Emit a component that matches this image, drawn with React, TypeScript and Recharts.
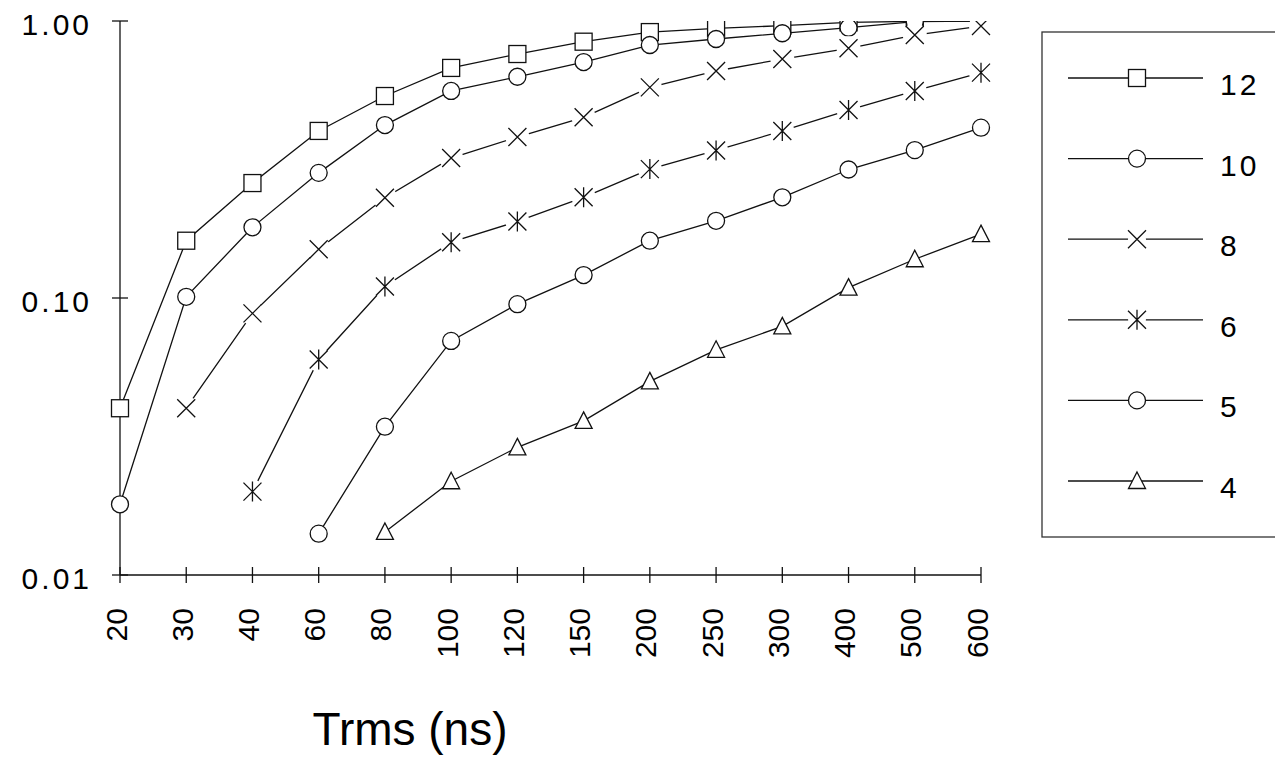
import React from 'react';
import { LineChart, Line, XAxis, YAxis, Legend, Label } from 'recharts';

const FONT = '"Liberation Sans", Arial, sans-serif';

// Trms values (ns) on the x axis
const trms = ['20', '30', '40', '60', '80', '100', '120', '150', '200', '250', '300', '400', '500', '600'];

// one curve per legend entry
const s12 = [0.040, 0.161, 0.260, 0.401, 0.536, 0.677, 0.760, 0.842, 0.912, 0.941, 0.962, 0.989, 0.997, 1.0];
const s10 = [0.018, 0.101, 0.180, 0.283, 0.421, 0.559, 0.629, 0.711, 0.819, 0.861, 0.903, 0.946, 0.994, 1.0];
const s8 = [null, 0.040, 0.088, 0.150, 0.230, 0.320, 0.381, 0.449, 0.576, 0.660, 0.729, 0.797, 0.890, 0.959];
const s6 = [null, null, 0.020, 0.060, 0.110, 0.159, 0.189, 0.231, 0.292, 0.341, 0.401, 0.477, 0.559, 0.651];
const s5 = [null, null, null, 0.0141, 0.0343, 0.070, 0.095, 0.121, 0.161, 0.190, 0.231, 0.291, 0.342, 0.412];
const s4 = [null, null, null, null, 0.0143, 0.0218, 0.0289, 0.036, 0.050, 0.065, 0.079, 0.109, 0.138, 0.170];

const yTicks = [0.01, 0.1, 1];

const SERIES = [
  { key: 's12', name: '12', values: s12, marker: 'square' },
  { key: 's10', name: '10', values: s10, marker: 'circle' },
  { key: 's8', name: '8', values: s8, marker: 'cross' },
  { key: 's6', name: '6', values: s6, marker: 'star' },
  { key: 's5', name: '5', values: s5, marker: 'circle' },
  { key: 's4', name: '4', values: s4, marker: 'triangle' },
];

const chartData = trms.map((t, i) => {
  const row: any = { t };
  SERIES.forEach((s) => { row[s.key] = s.values[i]; });
  return row;
});

const INK = '#111';
const SW = 1.3;

const Marker = ({ kind, cx, cy, gap = 12 }: { kind: string; cx: number; cy: number; gap?: number }) => {
  const r = 8.5;
  if (kind === 'square') {
    return <rect x={cx - r} y={cy - r} width={2 * r} height={2 * r} fill="#fff" stroke={INK} strokeWidth={SW} />;
  }
  if (kind === 'circle') {
    return <circle cx={cx} cy={cy} r={r} fill="#fff" stroke={INK} strokeWidth={SW} />;
  }
  if (kind === 'triangle') {
    return (
      <path d={`M${cx},${cy - 9}L${cx + 8.5},${cy + 7.5}L${cx - 8.5},${cy + 7.5}Z`} fill="#fff" stroke={INK} strokeWidth={SW} />
    );
  }
  const a = 9;
  let d = `M${cx - a},${cy - a}L${cx + a},${cy + a}M${cx + a},${cy - a}L${cx - a},${cy + a}`;
  if (kind === 'star') d += `M${cx},${cy - a - 1}L${cx},${cy + a + 1}`;
  return (
    <g>
      <circle cx={cx} cy={cy} r={gap} fill="#fff" />
      <path d={d} fill="none" stroke={INK} strokeWidth={SW} />
    </g>
  );
};

const makeDot = (kind: string) => (p: any) => {
  const k = `${kind}-${p.index}`;
  if (p.cx == null || p.cy == null || p.value == null) return <g key={k} />;
  return (
    <g key={k}>
      <Marker kind={kind} cx={p.cx} cy={p.cy} />
    </g>
  );
};

const XTick = (props: any) => {
  const { x, y, payload } = props;
  const axisY = y - 8;
  const tx = x + 6.5;
  const ty = axisY + 33;
  return (
    <g>
      <line x1={x} x2={x} y1={axisY - 8} y2={axisY + 8} stroke={INK} strokeWidth={SW} />
      <text x={tx} y={ty} transform={`rotate(-90 ${tx} ${ty})`} textAnchor="end" fontFamily={FONT} fontSize={30} fill="#000">
        {payload.value}
      </text>
    </g>
  );
};

const YTick = (props: any) => {
  const { x, y, payload } = props;
  return (
    <g>
      <line x1={x} x2={x + 16} y1={y} y2={y} stroke={INK} strokeWidth={SW} />
      <text x={x - 20} y={y + 14} textAnchor="end" fontFamily={FONT} fontSize={30} letterSpacing={3} fill="#000">
        {Number(payload.value).toFixed(2)}
      </text>
    </g>
  );
};

// legend keeps the series order (12 at top, 4 at bottom)
const LegendBox = () => {
  const rowH = 80.6;
  return (
    <svg width={245} height={530} style={{ display: 'block' }}>
      <rect x={12} y={12} width={300} height={505} fill="#fff" stroke="#333" strokeWidth={SW} />
      {SERIES.map((s, i) => {
        const cy = 58 + i * rowH;
        return (
          <g key={s.key}>
            <line x1={38} x2={173} y1={cy} y2={cy} stroke={INK} strokeWidth={SW} />
            <Marker kind={s.marker} cx={107} cy={cy} gap={9} />
            <text x={190} y={cy + 17} fontFamily={FONT} fontSize={30} letterSpacing={3} fill="#000">
              {s.name}
            </text>
          </g>
        );
      })}
    </svg>
  );
};

const AxisTitle = (props: any) => {
  const vb = props.viewBox || { x: 120, y: 575 };
  return (
    <text x={vb.x + 290} y={vb.y + 170} textAnchor="middle" fontFamily={FONT} fontSize={46} fill="#000">
      Trms (ns)
    </text>
  );
};

export default function App() {
  return (
    <div style={{ position: 'absolute', left: 0, top: 0, width: 1275, height: 757, background: '#fff' }}>
      <LineChart width={1275} height={757} data={chartData} margin={{ top: 21, right: 294, left: 0, bottom: 0 }}>
        <XAxis
          dataKey="t"
          interval={0}
          height={182}
          tickSize={8}
          tickMargin={0}
          tickLine={false}
          axisLine={{ stroke: INK, strokeWidth: SW }}
          tick={<XTick />}
        >
          <Label content={<AxisTitle />} />
        </XAxis>
        <YAxis
          scale="log"
          domain={[0.01, 1]}
          ticks={yTicks}
          allowDataOverflow
          width={120}
          tickSize={8}
          tickMargin={0}
          tickLine={false}
          axisLine={{ stroke: INK, strokeWidth: SW }}
          tick={<YTick />}
        />
        <Legend
          layout="horizontal"
          verticalAlign="middle"
          align="center"
          content={<LegendBox />}
          wrapperStyle={{ position: 'absolute', left: 1030, top: 20, width: 245, height: 530 }}
        />
        {SERIES.map((s) => (
          <Line
            key={s.key}
            dataKey={s.key}
            name={s.name}
            type="linear"
            stroke={INK}
            strokeWidth={SW}
            dot={makeDot(s.marker)}
            activeDot={false}
            isAnimationActive={false}
          />
        ))}
      </LineChart>
    </div>
  );
}
